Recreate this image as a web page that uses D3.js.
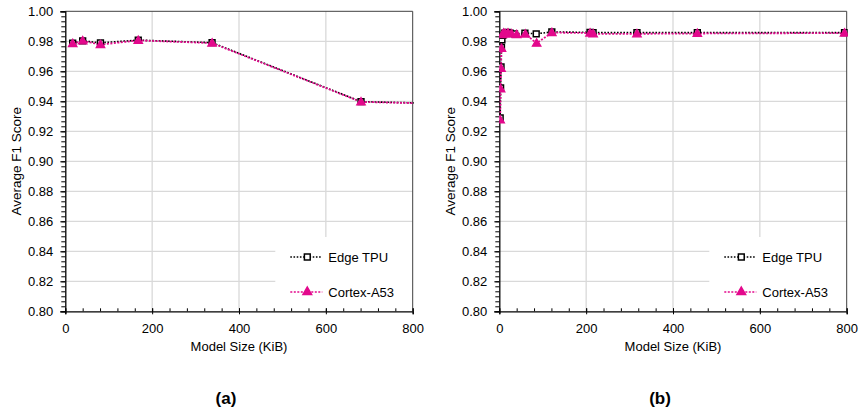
<!DOCTYPE html>
<html><head><meta charset="utf-8">
<script src="https://cdn.jsdelivr.net/npm/d3@7"></script>
<style>body{margin:0;background:#fff}text{font-family:"Liberation Sans",Arial,sans-serif}</style>
</head><body>
<svg id="c" width="859" height="411"></svg>
<script>
// ---- data ----
const xTicks = [0, 200, 400, 600, 800];
const yTicks = [0.80, 0.82, 0.84, 0.86, 0.88, 0.90, 0.92, 0.94, 0.96, 0.98, 1.00];
const seriesNames = ["Edge TPU", "Cortex-A53"];
const panelLabels = ["(a)", "(b)"];

const sizesA = [17, 40, 81, 168, 338, 681, 1362];
const edgeA = [0.9787, 0.9803, 0.9790, 0.9808, 0.9791, 0.9398, 0.9350];
const cortexA = [0.9785, 0.9803, 0.9778, 0.9806, 0.9788, 0.9396, 0.9350];

const sizesBEdge = [2, 3, 4, 5, 6, 8, 12, 18, 25, 35, 59, 85, 121, 209, 216, 317, 456, 795];
const edgeB = [0.929, 0.949, 0.963, 0.976, 0.981, 0.984, 0.9855, 0.986, 0.9855, 0.985, 0.9855, 0.985, 0.9862, 0.986, 0.9858, 0.9858, 0.9858, 0.9858];
const sizesBCortex = [2, 3, 4, 5, 7, 10, 14, 20, 28, 40, 60, 86, 121, 209, 216, 317, 456, 795];
const cortexB = [0.9276, 0.9482, 0.962, 0.9753, 0.9845, 0.9855, 0.985, 0.9855, 0.985, 0.9845, 0.9848, 0.9787, 0.9858, 0.9855, 0.985, 0.985, 0.9852, 0.9855];

const MAGENTA = "#e3088c";
const svg = d3.select("#c");

function panel(idx, offX, sizesE, valsE, sizesC, valsC) {
  const L = 65.3 + offX, R = 412.7 + offX, T = 11.3, B = 311.3;
  const x = d3.scaleLinear().domain([0, 800]).range([L, R]);
  const y = d3.scaleLinear().domain([0.80, 1.00]).range([B, T]);
  const g = svg.append("g");
  const clipId = "clip" + idx;
  g.append("clipPath").attr("id", clipId).append("rect")
    .attr("x", L).attr("y", T - 6).attr("width", R - L + 1).attr("height", B - T + 12);

  g.append("g").selectAll("line.h").data(yTicks.slice(1, -1)).join("line")
    .attr("x1", L).attr("x2", R).attr("y1", d => y(d)).attr("y2", d => y(d))
    .attr("stroke", "#d9d9d9").attr("stroke-width", 1.3);
  g.append("g").selectAll("line.v").data(xTicks.slice(1, -1)).join("line")
    .attr("y1", T).attr("y2", B).attr("x1", d => x(d)).attr("x2", d => x(d))
    .attr("stroke", "#d9d9d9").attr("stroke-width", 1.3);

  g.append("rect").attr("x", L + 210).attr("y", 237).attr("width", R - L - 210).attr("height", B - 237 - 1).attr("fill", "#fff");

  g.append("path").attr("d", `M${L},${T}H${R}V${B}`).attr("fill", "none").attr("stroke", "#404040").attr("stroke-width", 1);

  const yMinor = d3.range(0, 61).map(i => 0.80 + i * (0.02 / 6));
  const ya = d3.axisLeft(y).tickValues(yMinor).tickSize(4).tickFormat("");
  g.append("g").attr("transform", `translate(${L},0)`).call(ya)
    .call(s => { s.select(".domain").remove(); s.selectAll("line").attr("stroke", "#000"); });
  const yM = d3.axisLeft(y).tickValues(yTicks).tickSize(5).tickPadding(7).tickFormat(d3.format(".2f"));
  g.append("g").attr("transform", `translate(${L},0)`).call(yM)
    .call(s => {
      s.select(".domain").attr("stroke", "#000").attr("stroke-width", 1.3);
      s.selectAll("line").attr("stroke", "#000");
      s.selectAll("text").attr("font-size", 13).attr("fill", "#000").attr("font-family", "Liberation Sans, Arial");
    });

  const xMinor = d3.range(0, 21).map(i => i * 40);
  const xa = d3.axisBottom(x).tickValues(xMinor).tickSize(-3).tickFormat("");
  g.append("g").attr("transform", `translate(0,${B})`).call(xa)
    .call(s => { s.select(".domain").remove(); s.selectAll("line").attr("stroke", "#000"); });
  const xM = d3.axisBottom(x).tickValues(xTicks).tickSize(3).tickPadding(9).tickFormat(d3.format("d"));
  g.append("g").attr("transform", `translate(0,${B})`).call(xM)
    .call(s => {
      s.select(".domain").attr("stroke", "#000").attr("stroke-width", 1.3);
      s.selectAll("line").attr("stroke", "#000").attr("y1", -3);
      s.selectAll("text").attr("font-size", 13).attr("fill", "#000").attr("font-family", "Liberation Sans, Arial");
    });

  g.append("text").attr("x", (L + R) / 2).attr("y", 351).attr("text-anchor", "middle")
    .attr("font-size", 13).text("Model Size (KiB)");
  g.append("text").attr("transform", `translate(${L - 44},${(T + B) / 2}) rotate(-90)`)
    .attr("text-anchor", "middle").attr("font-size", 13.5).text("Average F1 Score");
  g.append("text").attr("x", (L + R) / 2 - 13).attr("y", 404).attr("text-anchor", "middle")
    .attr("font-size", 17).attr("font-weight", "bold").text(panelLabels[idx]);

  const dataE = sizesE.map((s, i) => [s, valsE[i]]);
  const dataC = sizesC.map((s, i) => [s, valsC[i]]);
  const line = d3.line().x(d => x(d[0])).y(d => y(d[1]));
  const plot = g.append("g").attr("clip-path", `url(#${clipId})`);
  plot.append("path").attr("d", line(dataE)).attr("fill", "none").attr("stroke", "#000")
    .attr("stroke-width", 1.6).attr("stroke-dasharray", "1.6 1.6");
  plot.append("path").attr("d", line(dataC)).attr("fill", "none").attr("stroke", MAGENTA)
    .attr("stroke-width", 1.8).attr("stroke-dasharray", "2 1.5");
  const sq = d3.symbol().type(d3.symbolSquare).size(34);
  const tri = d3.symbol().type(d3.symbolTriangle).size(32);
  plot.selectAll("path.sq").data(dataE).join("path").attr("class", "sq")
    .attr("d", sq).attr("transform", d => `translate(${x(d[0])},${y(d[1])})`)
    .attr("fill", "#fff").attr("stroke", "#000").attr("stroke-width", 1.5);
  plot.selectAll("path.tri").data(dataC).join("path").attr("class", "tri")
    .attr("d", tri).attr("transform", d => `translate(${x(d[0])},${y(d[1]) + 0.5})`)
    .attr("fill", MAGENTA).attr("stroke", MAGENTA).attr("stroke-width", 1.2);

  const lx1 = L + 225, lx2 = L + 257, lm = L + 242, lt = L + 263;
  const rows = [{ y: 257, name: seriesNames[0], c: "#000", dash: "1.6 1.6", m: sq, fill: "#fff" },
                { y: 292, name: seriesNames[1], c: MAGENTA, dash: "2 1.5", m: tri, fill: MAGENTA }];
  rows.forEach(r => {
    g.append("line").attr("x1", lx1).attr("x2", lx2).attr("y1", r.y).attr("y2", r.y)
      .attr("stroke", r.c).attr("stroke-width", 1.6).attr("stroke-dasharray", r.dash);
    g.append("path").attr("d", r.m).attr("transform", `translate(${lm},${r.y})`)
      .attr("fill", r.fill).attr("stroke", r.c).attr("stroke-width", 1.5);
    g.append("text").attr("x", lt).attr("y", r.y + 4.5).attr("font-size", 13).text(r.name);
  });
}

panel(0, 0, sizesA, edgeA, sizesA, cortexA);
panel(1, 434, sizesBEdge, edgeB, sizesBCortex, cortexB);
</script>
</body></html>
